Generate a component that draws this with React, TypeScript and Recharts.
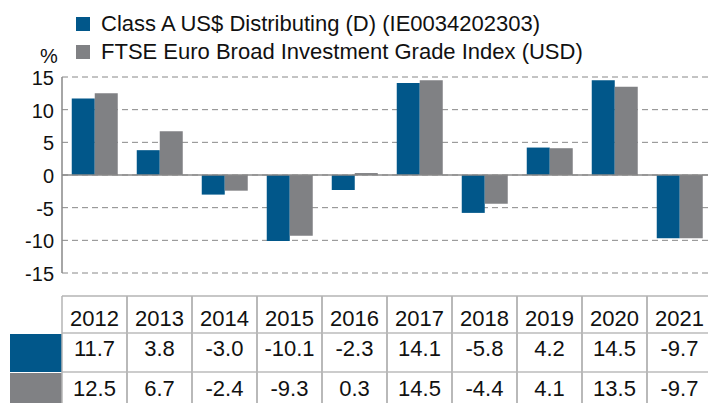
import React from 'react';
import { BarChart, Bar, XAxis, YAxis, CartesianGrid, ReferenceLine } from 'recharts';

const years = ['2012', '2013', '2014', '2015', '2016', '2017', '2018', '2019', '2020', '2021'];
const fundReturns = [11.7, 3.8, -3.0, -10.1, -2.3, 14.1, -5.8, 4.2, 14.5, -9.7];
const indexReturns = [12.5, 6.7, -2.4, -9.3, 0.3, 14.5, -4.4, 4.1, 13.5, -9.7];
const seriesNames = [
  'Class A US$ Distributing (D) (IE0034202303)',
  'FTSE Euro Broad Investment Grade Index (USD)',
];
const yTicks = [-15, -10, -5, 0, 5, 10, 15];

const BLUE = '#01578A';
const GRAY = '#808184';
const FONT = '"Liberation Sans", Arial, Helvetica, sans-serif';

const CHART_W = 712;
const CHART_H = 403;
const Y_W = 62;
const X_H = 130;
const PLOT_W = CHART_W - Y_W;
const COL_W = PLOT_W / years.length;

const data = years.map((y, i) => ({ year: y, fund: fundReturns[i], index: indexReturns[i] }));

const YTick = (props: any) => {
  const { x, y, payload } = props;
  return (
    <text x={x} y={y + 8} textAnchor="end" fontSize={20} fontFamily={FONT} fill="#111">
      {payload.value}
    </text>
  );
};

const TableTick = (props: any) => {
  const { x, y, payload, index } = props;
  const left = x - COL_W / 2;
  const right = x + COL_W / 2;
  const top = y + 23;
  const r1 = y + 60;
  const r2 = y + 99;
  const bottom = CHART_H;
  return (
    <g>
      {index === 0 && (
        <g>
          <rect x={left - 52} y={r1 + 1} width={52} height={r2 - r1 - 1} fill={BLUE} />
          <rect x={left - 52} y={r2 + 1} width={52} height={bottom - r2} fill={GRAY} />
        </g>
      )}
      <line x1={left} x2={right} y1={top} y2={top} stroke="#B4B4B4" strokeWidth={1.5} />
      <line x1={left} x2={right} y1={r1} y2={r1} stroke="#CCCCCC" strokeWidth={2} />
      <line x1={left} x2={right} y1={r2} y2={r2} stroke="#CCCCCC" strokeWidth={2} />
      <line x1={left} x2={left} y1={top} y2={bottom} stroke="#B4B4B4" strokeWidth={1.5} />
      <line x1={right} x2={right} y1={top} y2={bottom} stroke="#B4B4B4" strokeWidth={1.5} />
      <text x={x} y={y + 53} textAnchor="middle" fontSize={22} fontFamily={FONT} fill="#111">
        {payload.value}
      </text>
      <text x={x} y={y + 83} textAnchor="middle" fontSize={22} fontFamily={FONT} fill="#111">
        {fundReturns[index].toFixed(1)}
      </text>
      <text x={x} y={y + 123} textAnchor="middle" fontSize={22} fontFamily={FONT} fill="#111">
        {indexReturns[index].toFixed(1)}
      </text>
    </g>
  );
};

export default function App() {
  return (
    <div
      style={{
        position: 'absolute',
        left: 0,
        top: 0,
        width: 708,
        height: 403,
        overflow: 'hidden',
        background: '#fff',
      }}
    >
      <BarChart
        width={CHART_W}
        height={CHART_H}
        data={data}
        margin={{ top: 77, right: 0, bottom: 0, left: 0 }}
        barCategoryGap="15%"
        barGap={0}
      >
        <CartesianGrid vertical={false} stroke="#888" strokeDasharray="6 4" />
        <XAxis
          dataKey="year"
          height={X_H}
          axisLine={false}
          tickLine={false}
          tickSize={0}
          tickMargin={0}
          interval={0}
          tick={<TableTick />}
        />
        <YAxis
          width={Y_W}
          domain={[-15, 15]}
          ticks={yTicks}
          axisLine={{ stroke: '#888', strokeWidth: 1.5 }}
          tickLine={false}
          tickSize={0}
          tickMargin={8}
          tick={<YTick />}
          interval={0}
        />
        <ReferenceLine y={0} stroke="#888" strokeWidth={1.5} />
        <Bar dataKey="fund" name={seriesNames[0]} fill={BLUE} isAnimationActive={false} />
        <Bar dataKey="index" name={seriesNames[1]} fill={GRAY} isAnimationActive={false} />
      </BarChart>
      <svg
        width={708}
        height={75}
        style={{ position: 'absolute', left: 0, top: 0, pointerEvents: 'none' }}
      >
        <text x={40} y={63} fontSize={20} fontFamily={FONT} fill="#111">%</text>
        <rect x={76} y={17} width={14} height={14} fill={BLUE} />
        <text x={101} y={31} fontSize={22} fontFamily={FONT} fill="#111">{seriesNames[0]}</text>
        <rect x={76} y={45} width={14} height={14} fill={GRAY} />
        <text x={101} y={59} fontSize={22} fontFamily={FONT} fill="#111">{seriesNames[1]}</text>
      </svg>
    </div>
  );
}
